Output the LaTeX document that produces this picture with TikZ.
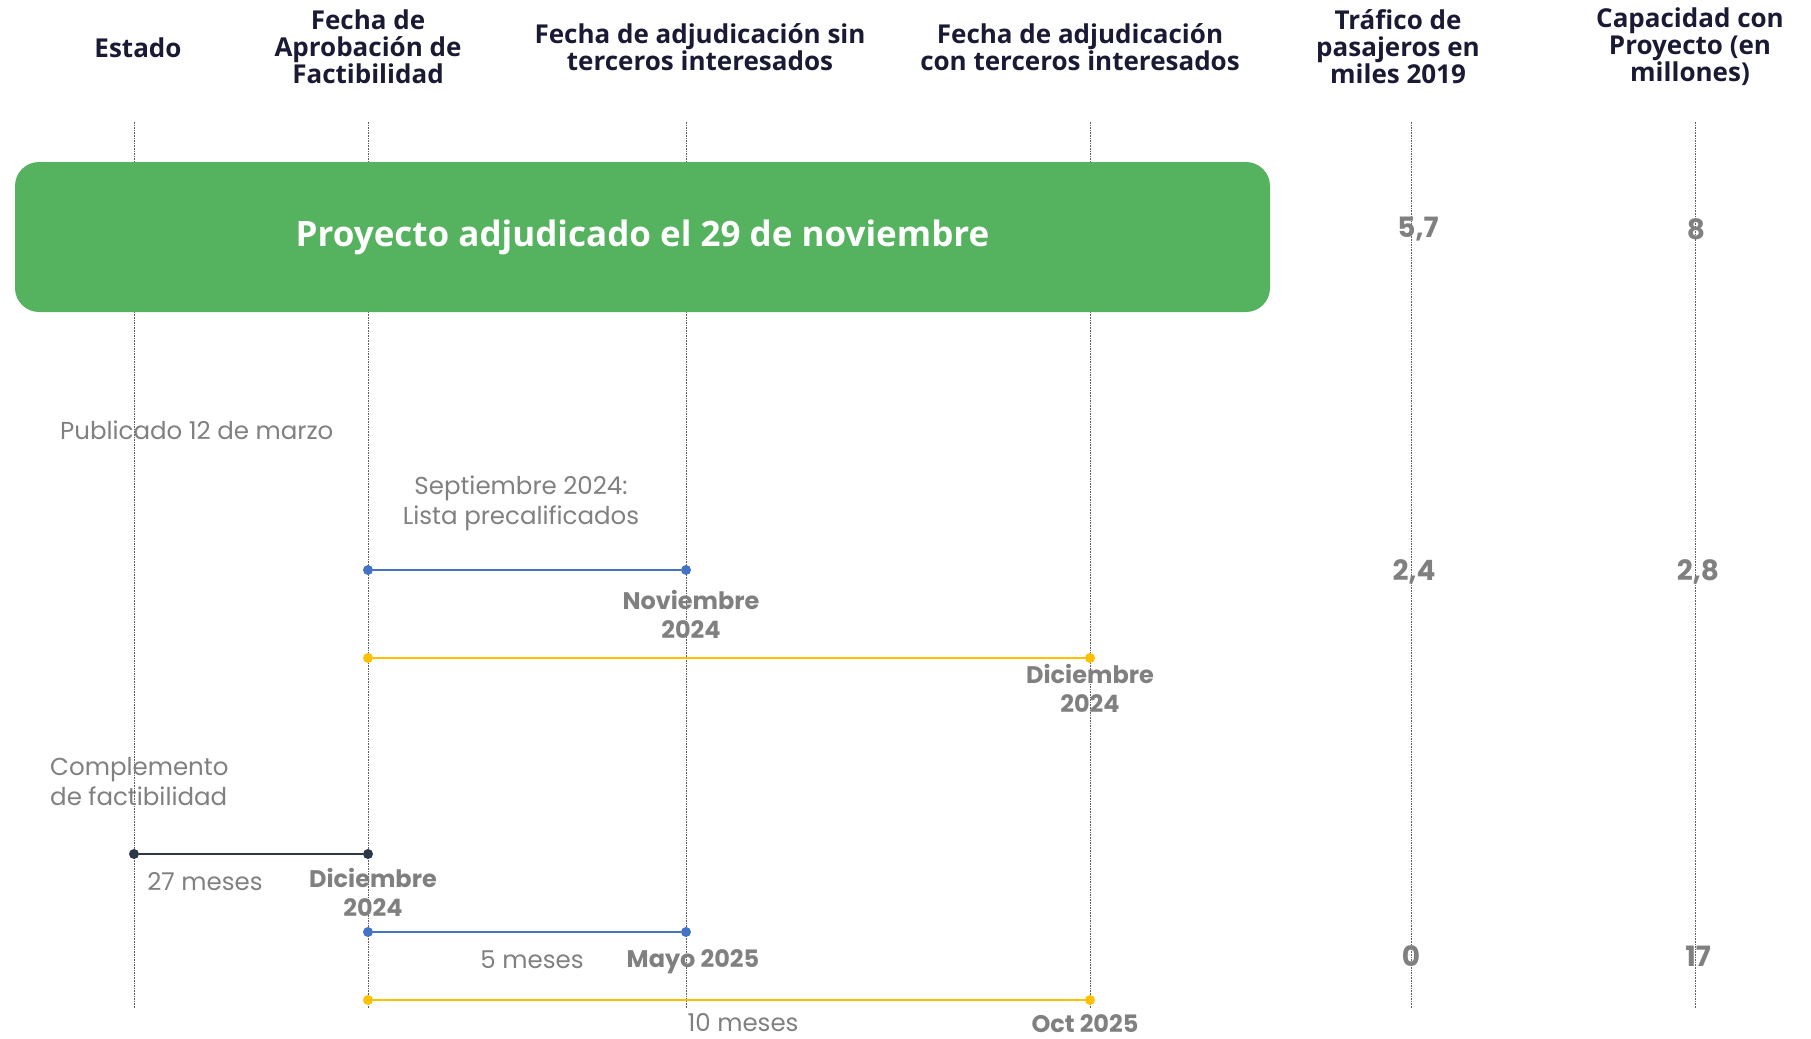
\documentclass[tikz,border=0pt]{standalone}
\usepackage{fontspec}
\setmainfont{Open Sans}
\newfontfamily\mfont{Poppins}
\usepackage{tikz}
\usetikzlibrary{positioning}
\definecolor{agreen}  {RGB}{85,178,95}
\definecolor{agray}   {RGB}{128,128,128}
\definecolor{anavy}   {RGB}{26,26,52}
\definecolor{ablue}   {RGB}{68,114,196}
\definecolor{ayellow} {RGB}{255,192,0}
\definecolor{adark}   {RGB}{44,55,72}
\definecolor{acol}    {RGB}{95,95,95}
\tikzset{
    column/.style={draw=acol, line width=0.9pt, dash pattern=on 1.6pt off 1pt},
    blueline/.style={draw=ablue, line width=1.7pt},
    yellowline/.style={draw=ayellow, line width=1.7pt},
    darkline/.style={draw=adark, line width=1.7pt},
    bluedot/.style={circle, fill=ablue, inner sep=0pt, minimum size=10pt},
    yellowdot/.style={circle, fill=ayellow, inner sep=0pt, minimum size=10pt},
    darkdot/.style={circle, fill=adark, inner sep=0pt, minimum size=10pt},
    header/.style={text=anavy, align=center, inner sep=0pt,
             font=\bfseries\fontsize{26}{27}\selectfont},
    banner/.style={fill=agreen, rounded corners=24pt, text=white,
             minimum width=1255pt, minimum height=150pt,
             font=\bfseries\fontsize{35}{40}\selectfont},
    note/.style={text=agray, align=left, inner sep=0pt,
             font=\mfont\fontsize{24.5}{30}\selectfont},
    datelabel/.style={text=agray, align=center, inner sep=0pt,
             font=\mfont\bfseries\fontsize{24}{29}\selectfont},
    value/.style={text=agray, inner sep=0pt,
             font=\mfont\bfseries\fontsize{28}{30}\selectfont}
  }
\begin{document}
\begin{tikzpicture}[x=1pt, y=-1pt]
 \useasboundingbox (0,0) rectangle (1811,1038);
 %Column tops and bottoms
     \coordinate (c1t) at (134,122);  \coordinate (c1b) at (134,1008);
     \coordinate (c2t) at (368,122);  \coordinate (c2b) at (368,1008);
     \coordinate (c3t) at (686,122);  \coordinate (c3b) at (686,1008);
     \coordinate (c4t) at (1090,122); \coordinate (c4b) at (1090,1008);
     \coordinate (c5t) at (1411,122); \coordinate (c5b) at (1411,1008);
     \coordinate (c6t) at (1695,122); \coordinate (c6b) at (1695,1008);
 %Columns
     \draw[column] (c1t) -- (c1b);
     \draw[column] (c2t) -- (c2b);
     \draw[column] (c3t) -- (c3b);
     \draw[column] (c4t) -- (c4b);
     \draw[column] (c5t) -- (c5b);
     \draw[column] (c6t) -- (c6b);
 %Headers
     \node[header] (h1) at (138,48) {Estado};
     \node[header] (h2) at (368,47) {Fecha de\\Aprobación de\\Factibilidad};
     \node[header] (h3) at (700,47) {Fecha de adjudicación sin\\terceros interesados};
     \node[header] (h4) at (1080,47) {Fecha de adjudicación\\con terceros interesados};
     \node[header] (h5) at (1398,47) {Tráfico de\\pasajeros en\\miles 2019};
     \node[header] (h6) at (1690,47) {Capacidad con\\Proyecto (en\\millones)};
 %Banner
     \node[banner] (adj) at (642.5,237) {Proyecto adjudicado el 29 de noviembre};
     \node[value] (v57) at (1418,229) {5,7};
     \node[value] (v8) at (1696,229) {8};
 %Second row
     \node[note, anchor=west] (pub) at (60,430) {Publicado 12 de marzo};
     \node[note, align=center] (sep) at (521,503) {Septiembre 2024:\\Lista precalificados};
     \node[bluedot] (b1s) at (368,570) {};
     \node[bluedot] (b1e) at (686,570) {};
     \draw[blueline] (b1s) -- (b1e);
     \node[datelabel] (nov) at (691,614) {Noviembre\\2024};
     \node[yellowdot] (y1s) at (368,658) {};
     \node[yellowdot] (y1e) at (1090,658) {};
     \draw[yellowline] (y1s) -- (y1e);
     \node[datelabel] (dic1) at (1090,688) {Diciembre\\2024};
     \node[value] (v24) at (1414,572) {2,4};
     \node[value] (v28) at (1698,572) {2,8};
 %Third row
     \node[note, anchor=west] (comp) at (50,782) {Complemento\\de factibilidad};
     \node[darkdot] (d1s) at (134,854) {};
     \node[darkdot] (d1e) at (368,854) {};
     \draw[darkline] (d1s) -- (d1e);
     \node[note] (m27) at (205,882) {27 meses};
     \node[datelabel] (dic2) at (373,892) {Diciembre\\2024};
     \node[bluedot] (b2s) at (368,932) {};
     \node[bluedot] (b2e) at (686,932) {};
     \draw[blueline] (b2s) -- (b2e);
     \node[note] (m5) at (532,960) {5 meses};
     \node[datelabel] (may) at (693,962) {Mayo 2025};
     \node[yellowdot] (y2s) at (368,1000) {};
     \node[yellowdot] (y2e) at (1090,1000) {};
     \draw[yellowline] (y2s) -- (y2e);
     \node[note] (m10) at (743,1023) {10 meses};
     \node[datelabel] (oct) at (1085,1024) {Oct 2025};
     \node[value] (v0) at (1411,956) {0};
     \node[value] (v17) at (1698,956) {17};
 \end{tikzpicture}
\end{document}
